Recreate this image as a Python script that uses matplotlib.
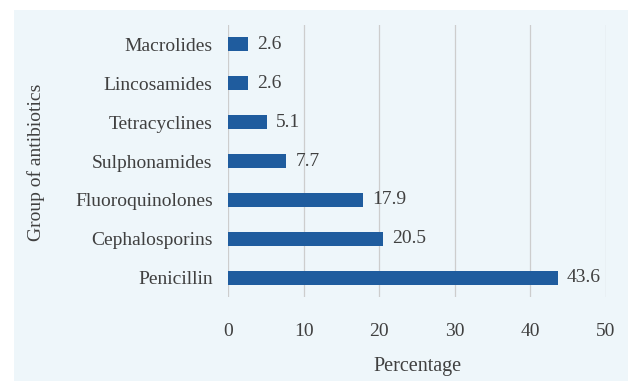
import matplotlib
matplotlib.use("Agg")
import matplotlib.pyplot as plt

categories = ["Penicillin", "Cephalosporins", "Fluoroquinolones", "Sulphonamides",
              "Tetracyclines", "Lincosamides", "Macrolides"]
values = [43.6, 20.5, 17.9, 7.7, 5.1, 2.6, 2.6]
xticks = [0, 10, 20, 30, 40, 50]

W, H = 629, 381
bg = "#eef6fa"
txt = "#404040"
fs = 14
plt.rcParams["font.family"] = ["Liberation Serif", "DejaVu Serif"]

fig = plt.figure(figsize=(W / 100, H / 100), dpi=100)
fig.patch.set_facecolor("white")

# light panel behind the chart
panel = fig.add_axes([14 / W, 0, (628 - 14) / W, (H - 10) / H], zorder=-5)
panel.set_facecolor(bg)
panel.set_xticks([]); panel.set_yticks([])
for s in panel.spines.values():
    s.set_visible(False)

ax = fig.add_axes([228 / W, (H - 297) / H, (606 - 228) / W, (297 - 25) / H])
ax.patch.set_alpha(0)

ypos = range(len(categories))
ax.barh(ypos, values, height=0.36, color="#1f5c9e", zorder=3)
for y, v in zip(ypos, values):
    ax.text(v + 1.2, y, f"{v:g}", va="center", ha="left", fontsize=fs, color=txt)

ax.set_xlim(0, 50)
ax.set_ylim(-0.5, len(categories) - 0.5)
ax.set_xticks(xticks)
ax.set_yticks(list(ypos))
ax.set_yticklabels(categories)
ax.grid(axis="x", color="#cdcdcd", linewidth=0.9, zorder=0)
for s in ax.spines.values():
    s.set_visible(False)
ax.tick_params(axis="both", length=0, labelsize=fs, colors=txt)
ax.tick_params(axis="x", pad=19)
ax.tick_params(axis="y", pad=11)

ax.set_xlabel("Percentage", fontsize=14.5, color=txt, labelpad=12)
fig.text(36 / W, (H - 162) / H, "Group of antibiotics", rotation=90,
         ha="center", va="center", fontsize=fs, color=txt)

fig.savefig("out.png", dpi=100, facecolor=fig.get_facecolor())
